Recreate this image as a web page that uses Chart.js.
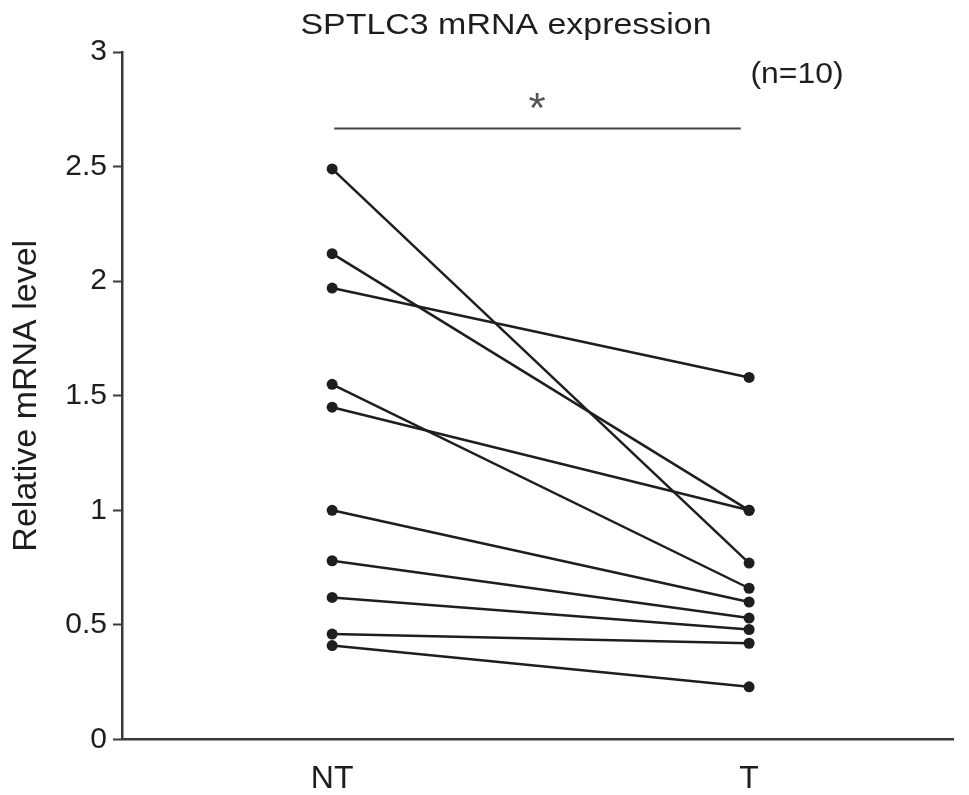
<!DOCTYPE html>
<html>
<head>
<meta charset="utf-8">
<title>SPTLC3 mRNA expression</title>
<script src="https://cdn.jsdelivr.net/npm/chart.js@4.4.1/dist/chart.umd.min.js"></script>
<style>
    html, body { margin: 0; padding: 0; background: #fff; }
    #wrap { width: 969px; height: 795px; }
</style>
</head>
<body>
<div id="wrap"><canvas id="chart"></canvas></div>
<script>
// paired samples, NT (adjacent normal) vs T (tumour)
const groups = ['NT', 'T'];
const ntValues = [2.49, 2.12, 1.97, 1.55, 1.45, 1.00, 0.78, 0.62, 0.46, 0.41];
const tValues = [0.77, 1.00, 1.58, 0.66, 1.00, 0.60, 0.53, 0.48, 0.42, 0.23];
const yTicks = [0, 0.5, 1, 1.5, 2, 2.5, 3];

const titleText = 'SPTLC3 mRNA expression';
const sampleText = '(n=10)';
const sigText = '*';

const ink = '#1e1e1e';
const fontFamily = '"Liberation Sans", Arial, Helvetica, sans-serif';

// text in the figure is drawn a bit wider than the font, stretch it
function wideText(ctx, text, cx, baseline, size, stretch) {
    ctx.save();
    ctx.translate(cx, baseline);
    ctx.scale(stretch, 1);
    ctx.font = size + 'px ' + fontFamily;
    ctx.textAlign = 'center';
    ctx.textBaseline = 'alphabetic';
    ctx.fillText(text, 0, 0);
    ctx.restore();
}

const annotations = {
    id: 'annotations',
    afterDraw(chart) {
        const { ctx } = chart;
        const x = chart.scales.x;
        const y = chart.scales.y;
        ctx.save();
        ctx.fillStyle = ink;
        wideText(ctx, titleText, 506, 34, 29, 1.17);
        wideText(ctx, sampleText, 797, 83, 29, 1.1);

        // significance bar between the two groups
        const barY = Math.round(y.getPixelForValue(2.67)) + 0.5;
        ctx.strokeStyle = '#444';
        ctx.lineWidth = 2;
        ctx.beginPath();
        ctx.moveTo(x.getPixelForValue(1.005), barY);
        ctx.lineTo(x.getPixelForValue(1.98), barY);
        ctx.stroke();
        ctx.fillStyle = '#555';
        wideText(ctx, sigText, 537, 122, 42, 1.05);
        ctx.restore();
    }
};

const datasets = ntValues.map((v, i) => ({
    data: [{ x: 1, y: v }, { x: 2, y: tValues[i] }],
    borderColor: ink,
    backgroundColor: ink,
    borderWidth: 2.5,
    pointRadius: 5.5,
    pointHoverRadius: 5.5,
    pointBorderWidth: 0,
    showLine: true,
    tension: 0
}));

new Chart(document.getElementById('chart'), {
    type: 'scatter',
    data: { datasets: datasets },
    options: {
        responsive: true,
        maintainAspectRatio: false,
        animation: false,
        devicePixelRatio: 1,
        layout: { padding: { top: 52, right: 16, left: 0, bottom: 0 } },
        plugins: {
            legend: { display: false },
            tooltip: { enabled: false },
            title: { display: false }
        },
        scales: {
            x: {
                type: 'linear',
                min: 0.496,
                max: 2.489,
                afterFit(scale) { scale.height = 55.5; },
                afterBuildTicks(scale) {
                    scale.ticks = groups.map((g, i) => ({ value: i + 1 }));
                },
                ticks: {
                    callback: (value) => groups[value - 1],
                    color: ink,
                    padding: 12,
                    maxRotation: 0,
                    font: { family: fontFamily, size: 32 }
                },
                grid: { display: false },
                border: { display: true, color: '#3a3a3a', width: 2.5 }
            },
            y: {
                min: 0,
                max: 3,
                afterFit(scale) { scale.width = 122; },
                afterBuildTicks(scale) {
                    scale.ticks = yTicks.map(v => ({ value: v }));
                },
                ticks: {
                    callback: (value) => String(value),
                    color: ink,
                    padding: 6,
                    font: { family: fontFamily, size: 30 }
                },
                grid: {
                    display: true,
                    drawOnChartArea: false,
                    drawTicks: true,
                    tickLength: 9,
                    tickWidth: 2,
                    tickColor: '#3a3a3a'
                },
                border: { display: true, color: '#3a3a3a', width: 2.5 },
                title: {
                    display: true,
                    text: 'Relative mRNA level',
                    color: ink,
                    padding: { top: 6, bottom: 0 },
                    font: { family: fontFamily, size: 34 }
                }
            }
        }
    },
    plugins: [annotations]
});
</script>
</body>
</html>
